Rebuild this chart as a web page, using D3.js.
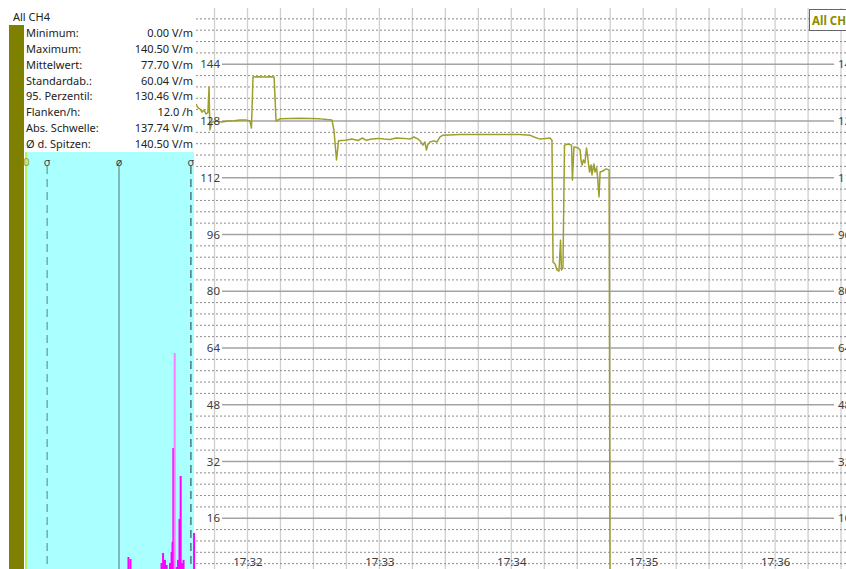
<!DOCTYPE html>
<html><head><meta charset="utf-8">
<script src="https://cdn.jsdelivr.net/npm/d3@7"></script>
<style>body{margin:0;background:#fff;overflow:hidden} svg{display:block}</style>
</head><body><svg id="c" width="846" height="569"></svg>
<script>
// ---------- data ----------
const seriesName = "All CH4";
const timeLabels = ["17:32", "17:33", "17:34", "17:35", "17:36"];
const yTicks = [16, 32, 48, 64, 80, 96, 112, 128, 144];
const statLabels = ["Minimum:", "Maximum:", "Mittelwert:", "Standardab.:", "95. Perzentil:", "Flanken/h:", "Abs. Schwelle:", "Ø d. Spitzen:"];
const statValues = ["0.00 V/m", "140.50 V/m", "77.70 V/m", "60.04 V/m", "130.46 V/m", "12.0 /h", "137.74 V/m", "140.50 V/m"];
// seconds after 17:31:00
const lineSeconds = [36.6, 37.5, 38.4, 39.3, 40.2, 41.1, 42.0, 42.5, 42.9, 43.8, 45.7, 48.4, 51.1, 53.9, 56.6, 59.3, 61.1, 61.8,
  62.5, 64.8, 67.5, 70.2, 72.1, 73.0, 74.8, 79.3, 83.9, 88.4, 93.0, 96.2, 98.4, 99.3, 100.5, 101.4, 104.4, 107.5, 110.3, 112.1,
  113.9, 116.6, 119.4, 122.1, 124.8, 127.6, 131.2, 133.9, 135.7, 137.6, 138.9, 139.8, 140.7, 141.4, 142.1, 143.0, 144.8, 146.2,
  147.6, 148.9, 156.7, 165.8, 174.9, 184.0, 188.5, 190.3, 193.1, 195.8, 197.6, 198.5, 199.0, 199.9, 200.8, 201.7, 202.4, 202.8,
  203.5, 204.2, 205.8, 207.4, 207.8, 208.5, 210.4, 211.3, 211.7, 212.2, 212.8, 213.5, 214.2, 214.9, 215.6, 216.3, 216.7, 217.6,
  218.1, 218.8, 219.2, 219.9, 220.4, 221.7, 223.1, 224.5, 224.9, 350.0];
const lineValues = [132.8, 131.7, 131.4, 130.5, 131.1, 130.0, 130.3, 137.6, 125.5, 127.7, 128.0, 127.7, 128.0, 128.1, 128.3, 128.3, 128.0, 126.0,
  140.4, 140.5, 140.4, 140.5, 140.4, 128.0, 128.6, 128.7, 128.8, 128.7, 128.6, 128.4, 128.3, 125.5, 117.0, 122.4, 122.6, 122.9, 122.5, 123.2,
  122.6, 122.9, 123.1, 122.9, 122.8, 123.2, 123.1, 122.9, 123.5, 122.9, 122.1, 121.2, 122.1, 119.8, 121.5, 122.1, 122.4, 122.1,
  123.5, 124.0, 124.2, 124.2, 124.2, 124.2, 124.0, 123.5, 122.9, 123.1, 123.2, 122.6, 88.2, 87.7, 86.0, 85.7, 94.4, 86.0,
  86.6, 121.2, 121.5, 121.2, 111.4, 120.7, 120.4, 119.8, 117.0, 115.6, 117.0, 116.2, 120.4, 117.0, 113.6, 115.6, 112.8, 115.9,
  113.6, 114.8, 112.5, 106.6, 113.6, 113.9, 114.5, 114.2, 0, 0];
// histogram of values (V/m) and relative counts
const histValues = [85.6, 87.3, 113.2, 114.5, 116.1, 117.5, 120.3, 121.6, 122.4, 123.1, 124.2, 125.9, 127.0, 128.2, 129.2, 130.3, 131.6, 140.4];
const histCounts = [8.1, 7.2, 5.4, 9.9, 6.8, 4.5, 5.4, 10.4, 14.9, 57.2, 100, 3.6, 6.8, 25.2, 44.6, 5.4, 6.8, 18.9];
const markerValues = [0, 17.66, 77.70, 137.74];
const markerSymbols = ["0", "σ", "ø", "σ"];

// ---------- setup ----------
const FONT = "'Noto Sans', 'Open Sans', sans-serif";
const svg = d3.select("#c").style("font-family", FONT);
const base = new Date(2000, 0, 1, 17, 31, 0);
const T = s => new Date(base.getTime() + s * 1000);
const x = d3.scaleTime().domain([T(60), T(300)]).range([247.5, 775.1]);
const y = d3.scaleLinear().domain([0, 160]).range([575, 7.5]);
const plotLeft = 196, plotRight = 846, plotTop = 8;

svg.append("defs").append("clipPath").attr("id", "clip")
  .append("rect").attr("x", plotLeft).attr("y", plotTop).attr("width", plotRight - plotLeft).attr("height", 569 - plotTop);

const plot = svg.append("g").attr("clip-path", "url(#clip)");

// vertical grid every 15 s
const vTimes = d3.range(45, 346, 15).map(T);
plot.append("g").selectAll("line").data(vTimes).join("line")
  .attr("x1", d => x(d)).attr("x2", d => x(d)).attr("y1", plotTop).attr("y2", 569)
  .attr("stroke", "#cfcfcf").attr("stroke-width", 1.3);

// minor dashed grid
const minor = d3.range(1, 50).filter(i => i % 5 !== 0).map(i => i * 3.2);
plot.append("g").selectAll("line").data(minor).join("line")
  .attr("x1", plotLeft).attr("x2", plotRight).attr("y1", d => y(d)).attr("y2", d => y(d))
  .attr("stroke", "#8c8c8c").attr("stroke-width", 1).attr("stroke-dasharray", "2,2");

// major solid lines
plot.append("g").selectAll("line").data(yTicks).join("line")
  .attr("x1", 222).attr("x2", 834).attr("y1", d => y(d)).attr("y2", d => y(d))
  .attr("stroke", "#a3a3a3").attr("stroke-width", 1.6);

// y labels left & right
const yl = svg.append("g").attr("transform", "translate(220,0)")
  .call(d3.axisLeft(y).tickValues(yTicks).tickSize(0).tickPadding(0));
const yr = svg.append("g").attr("transform", "translate(838,0)")
  .call(d3.axisRight(y).tickValues(yTicks).tickSize(0).tickPadding(0));
[yl, yr].forEach(g => {
  g.select(".domain").remove();
  g.attr("font-family", FONT).attr("font-size", 11.5);
  g.selectAll("text").attr("fill", "#3c3c3c");
});

// time labels
const xa = svg.append("g").attr("transform", "translate(0,558)")
  .call(d3.axisBottom(x).tickValues(timeLabels.map(s => {
    const [h, m] = s.split(":").map(Number);
    return new Date(2000, 0, 1, h, m, 0);
  })).tickFormat((d, i) => timeLabels[i]).tickSize(0).tickPadding(0));
xa.select(".domain").remove();
xa.attr("font-family", FONT).attr("font-size", 11.5);
xa.selectAll("text").attr("fill", "#3c3c3c");

// data line
const pts = lineSeconds.map((s, i) => [T(s), lineValues[i]]);
plot.append("path").datum(pts)
  .attr("d", d3.line().x(d => x(d[0])).y(d => y(d[1])))
  .attr("fill", "none").attr("stroke", "#9e9e2a").attr("stroke-width", 1.5).attr("stroke-linejoin", "round");

// ---------- left panel ----------
svg.append("rect").attr("x", 9).attr("y", 25).attr("width", 15).attr("height", 560).attr("fill", "#808000");
svg.append("rect").attr("x", 25).attr("y", 152).attr("width", 169).attr("height", 430).attr("fill", "#aaffff");

const hx = d3.scaleLinear().domain([0, 140.5]).range([26, 194.2]);
const hy = d3.scaleLinear().domain([0, 100]).range([575, 353]);

// zero / min marker line
svg.append("line").attr("x1", hx(0)).attr("x2", hx(0)).attr("y1", 152).attr("y2", 569)
  .attr("stroke", "#b9ee3a").attr("stroke-width", 1.6);

// histogram bars
svg.append("g").selectAll("rect").data(histValues).join("rect")
  .attr("x", d => hx(d) - 1).attr("width", 2)
  .attr("y", (d, i) => hy(histCounts[i])).attr("height", (d, i) => hy(0) - hy(histCounts[i]))
  .attr("fill", (d, i) => histCounts[i] === d3.max(histCounts) ? "#ff7cff" : "#ff00ff");

// stat marker lines
const markerStyles = [null,
  {stroke: "#6e9c9c", dash: "8,5"},
  {stroke: "#6a9494", dash: null},
  {stroke: "#3e6868", dash: "8,5"}];
markerValues.forEach((v, i) => {
  if (i > 0) {
    svg.append("line").attr("x1", hx(v)).attr("x2", hx(v)).attr("y1", 166).attr("y2", 569)
      .attr("stroke", markerStyles[i].stroke).attr("stroke-width", 1.3)
      .attr("stroke-dasharray", markerStyles[i].dash);
  }
  svg.append("text").attr("x", hx(v) + (i === 0 ? 0.5 : 0)).attr("y", 166).attr("text-anchor", "middle")
    .attr("font-size", 11).attr("fill", i === 0 ? "#9a9a10" : "#444").text(markerSymbols[i]);
});

// title & stats
svg.append("text").attr("x", 13).attr("y", 21).attr("font-size", 11).attr("fill", "#222").text(seriesName);
const rowY = d3.scaleLinear().domain([0, 7]).range([37, 148]);
svg.append("g").selectAll("text").data(statLabels).join("text")
  .attr("x", 26).attr("y", (d, i) => rowY(i)).attr("font-size", 11).attr("fill", "#222").text(d => d);
svg.append("g").selectAll("text").data(statValues).join("text")
  .attr("x", 193).attr("y", (d, i) => rowY(i)).attr("text-anchor", "end").attr("font-size", 11).attr("fill", "#222").text(d => d);

// legend box (top right)
svg.append("rect").attr("x", 809.5).attr("y", 9.5).attr("width", 60).attr("height", 21)
  .attr("fill", "#fff").attr("stroke", "#666").attr("stroke-width", 1);
svg.append("text").attr("x", 812).attr("y", 25).attr("font-size", 11.5).attr("font-weight", "bold")
  .attr("fill", "#8c8c00").text(seriesName);
</script></body></html>
